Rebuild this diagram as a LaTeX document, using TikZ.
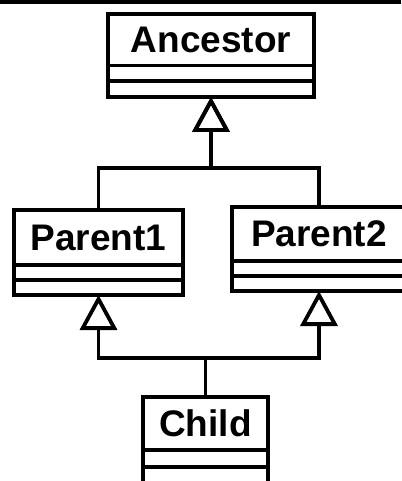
\documentclass[tikz,border=0pt]{standalone}
\usepackage{fontspec}
\setmainfont{Liberation Sans}
\usetikzlibrary{arrows.meta}
\begin{document}
\begin{tikzpicture}[x=1pt, y=-1pt, line width=3.8pt,
  classname/.style={draw, rectangle, inner sep=0pt, outer sep=0pt,
    font=\fontsize{37}{40}\selectfont\bfseries},
  gen/.style={-{Triangle[open, length=35pt, width=37pt]}, line join=miter}
]
\useasboundingbox (0,0) rectangle (401,481);

% rule along the top edge
\coordinate (ruleL) at (0,2);
\coordinate (ruleR) at (401,2);
\draw (ruleL) -- (ruleR);

% Ancestor
\node[classname, minimum width=206pt, minimum height=51.5pt] (anc) at (211,39.75) {Ancestor};
\draw (anc.south west) rectangle ([yshift=-31.5pt]anc.south east);
\draw ([yshift=-15.5pt]anc.south west) -- ([yshift=-15.5pt]anc.south east);
\coordinate (ancB) at ([yshift=-31.5pt]anc.south);

% Parent1
\node[classname, minimum width=169pt, minimum height=55pt] (p1) at (98.5,237.5) {Parent1};
\draw (p1.south west) rectangle ([yshift=-30pt]p1.south east);
\draw ([yshift=-15pt]p1.south west) -- ([yshift=-15pt]p1.south east);
\coordinate (p1B) at ([yshift=-30pt]p1.south);

% Parent2
\node[classname, minimum width=174pt, minimum height=54pt] (p2) at (319,234) {Parent2};
\draw (p2.south west) rectangle ([yshift=-30pt]p2.south east);
\draw ([yshift=-15pt]p2.south west) -- ([yshift=-15pt]p2.south east);
\coordinate (p2B) at ([yshift=-30pt]p2.south);

% Child
\node[classname, minimum width=125pt, minimum height=53pt] (ch) at (205.5,423.5) {Child};
\draw (ch.south west) rectangle ([yshift=-34pt]ch.south east);
\draw ([yshift=-17pt]ch.south west) -- ([yshift=-17pt]ch.south east);

% generalisation connectors
\coordinate (busTop) at (0,168);
\coordinate (busBot) at (0,358);
\draw[gen] (p1.north) -- (p1.north |- busTop) -| (ancB);
\draw[gen] (p2.north) -- (p2.north |- busTop) -| (ancB);
\draw[gen] (ch.north) -- (ch.north |- busBot) -| (p1B);
\draw[gen] (ch.north) -- (ch.north |- busBot) -| (p2B);
\end{tikzpicture}
\end{document}
